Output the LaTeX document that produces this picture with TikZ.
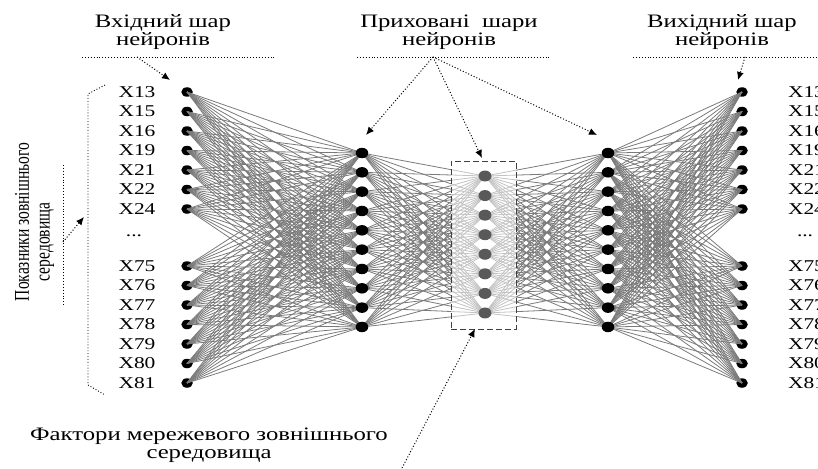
\documentclass[tikz,border=0pt]{standalone}
\usepackage{fontspec}
\setmainfont{Liberation Serif}
\newfontfamily\widefont[FakeStretch=1.3]{Liberation Serif}
\newfontfamily\narrowfont[FakeStretch=0.74]{Liberation Serif}
\usetikzlibrary{positioning,arrows.meta,shapes.geometric}
\pgfdeclarelayer{nodesback}
\pgfdeclarelayer{links}
\pgfsetlayers{nodesback,links,main}

\begin{document}
\begin{tikzpicture}[x=1pt,y=-1pt,
  every node/.style={inner sep=0pt,outer sep=0pt},
  io/.style={ellipse,fill=black,minimum width=11.5pt,minimum height=9.5pt},
  hid/.style={ellipse,fill=black,minimum width=12.5pt,minimum height=10.5pt},
  mid/.style={ellipse,fill=black!65,minimum width=13pt,minimum height=11pt},
  link/.style={draw=black!52,line width=0.8pt},
  pointer/.style={dotted,line width=1pt,-{Latex[length=8pt,width=7pt]}},
  rule/.style={dotted,line width=0.9pt},
  title/.style={font=\widefont\fontsize{19}{18}\selectfont,align=center},
  xname/.style={font=\widefont\fontsize{16.5}{16}\selectfont}
]
\useasboundingbox (0,0) rectangle (818,468);

% input and output layers
\begin{pgfonlayer}{nodesback}
\foreach \n/\y [count=\i] in {13/92,15/111.5,16/131,19/150.5,21/170,22/189.5,24/209,
    75/266,76/285.5,77/305,78/324.5,79/344,80/363.5,81/383}{
  \node[io] (in\i) at (187,\y) {};
  \node[xname] (inl\i) at (137,\y) {X\n};
  \node[io] (out\i) at (742,\y) {};
  \node[xname,anchor=west] (outl\i) at (788,\y) {X\n};
}
\end{pgfonlayer}
\node[xname] (indots) at (134,236) {...};
\node[xname,anchor=west] (outdots) at (797,236) {...};

% hidden layers
\foreach \i in {1,...,10}{
  \node[hid] (ha\i) at (362,{153+19.33*(\i-1)}) {};
  \node[hid] (hb\i) at (608,{153+19.33*(\i-1)}) {};
}
\foreach \i in {1,...,8}
  \node[mid] (hm\i) at (485,{176+19.57*(\i-1)}) {};

\begin{pgfonlayer}{links}
\foreach \i in {1,...,14}
  \foreach \j in {1,...,10}{
    \draw[link] (in\i.center) -- (ha\j.center);
    \draw[link] (out\i.center) -- (hb\j.center);
  }
\foreach \i in {1,...,10}
  \foreach \j in {1,...,8}{
    \draw[link] (ha\i.center) -- (hm\j.center);
    \draw[link] (hb\i.center) -- (hm\j.center);
  }
\node[draw=black!75,dash pattern=on 6pt off 3pt,line width=0.8pt,
  fill=white,fill opacity=0.55,minimum width=65pt,minimum height=168pt]
  (box) at (483.5,245) {};
\end{pgfonlayer}

% captions
\node[title] (tin) at (163,32) {Вхідний шар\\нейронів};
\node[title] (thid) at (449,32) {Приховані\ \ шари\\нейронів};
\node[title] (tout) at (722,32) {Вихідний шар\\нейронів};
\node[title] (tfac) at (209,445) {Фактори мережевого зовнішнього\\середовища};
\node[font=\narrowfont\fontsize{21}{21}\selectfont,rotate=90] (tleft1) at (22,222) {Показники зовнішнього};
\node[font=\narrowfont\fontsize{21}{21}\selectfont,rotate=90] (tleft2) at (47,242) {середовища};

% dotted guides
\coordinate (rin) at (137,57);
\coordinate (rhid) at (433,57);
\coordinate (rout) at (745,57);
\draw[rule] (82,57) -- (275,57);
\draw[rule] (357,57) -- (550,57);
\draw[rule] (633,57) -- (818,57);
\draw[pointer] (rin) -- (170,80);
\draw[pointer] (rhid) -- (366,135);
\draw[pointer] (rhid) -- (482,158);
\draw[pointer] (rhid) -- (597,135);
\draw[pointer] (rout) -- (738,80);
\coordinate (rfac) at (402,468);
\draw[pointer] (rfac) -- (box.south west -| 475,0);

% bracket on the left
\draw[rule] (105,85) -- (88,94) -- (88,385) -- (105,395);
\draw[rule] (63,165) -- (63,306);
\coordinate (rleft) at (63,242);
\draw[pointer] (rleft) -- (84,217);
\end{tikzpicture}
\end{document}
